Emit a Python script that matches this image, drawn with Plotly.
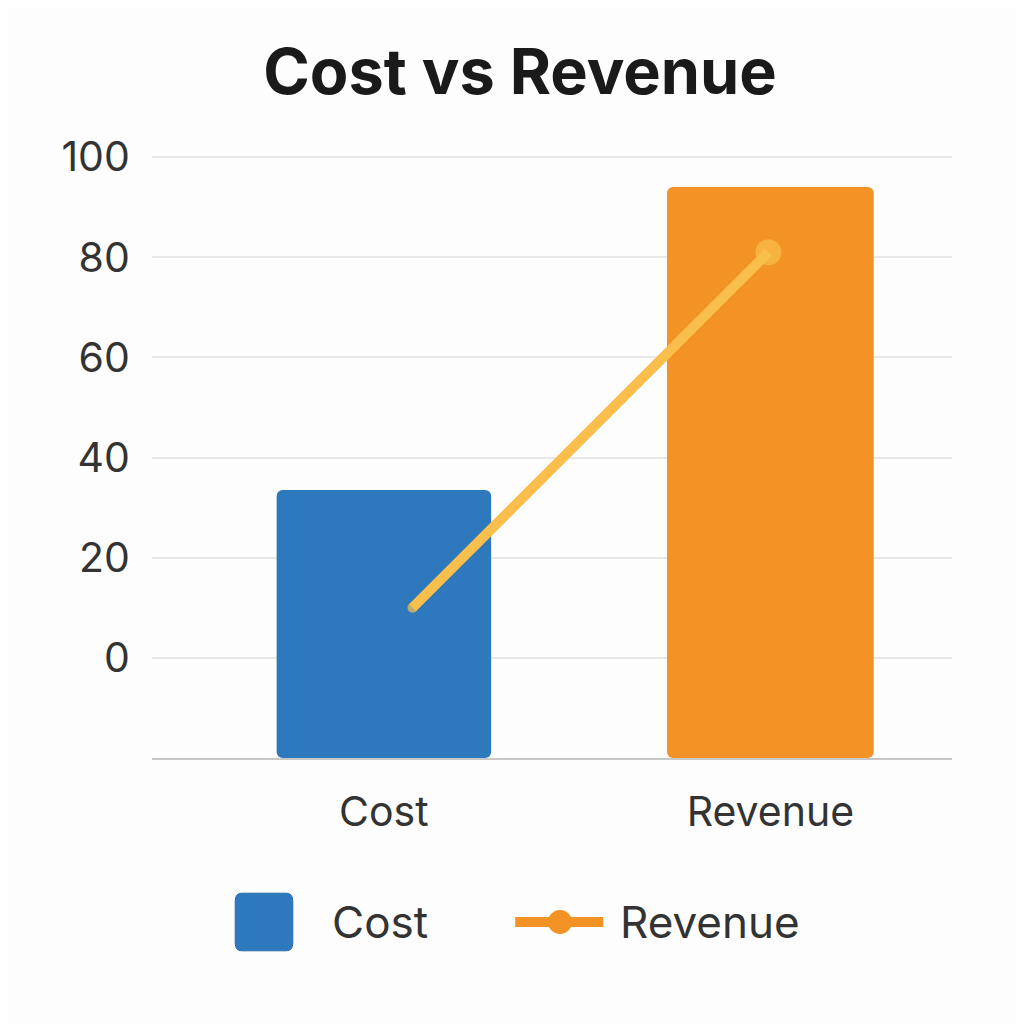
import plotly.graph_objects as go

# values
categories = ["Cost", "Revenue"]
bar_pos = [0, 1]
bar_values = [33.5, 94]
bar_base = -20
line_x = [0.074, 0.995]
line_values = [10, 81]
y_ticks = [0, 20, 40, 60, 80, 100]

blue = "#2E78BE"
orange = "#F39325"
yellow = "#F8BF4C"
font = "Inter"

fig = go.Figure()
fig.add_trace(go.Bar(x=[bar_pos[0]], y=[bar_values[0] - bar_base], base=bar_base, width=0.555,
                     marker=dict(color=blue, cornerradius=6, line=dict(width=0)),
                     name=categories[0], showlegend=False))
fig.add_trace(go.Bar(x=[bar_pos[1]], y=[bar_values[1] - bar_base], base=bar_base, width=0.535,
                     marker=dict(color=orange, cornerradius=6, line=dict(width=0)),
                     name=categories[1], showlegend=False))
fig.add_trace(go.Scatter(x=line_x, y=line_values, mode="lines+markers",
                         line=dict(color=yellow, width=10),
                         marker=dict(size=[10, 26], color=yellow, line=dict(width=0)),
                         name=categories[1], showlegend=False))

# legend drawn by hand, the symbols are far bigger than plotly's own
ly = -0.262
x0, x1, y0, y1 = 0.104, 0.176, ly - 0.046, ly + 0.046
rx, ry = 0.008, 0.0125
rounded = (f"M {x0+rx},{y0} L {x1-rx},{y0} Q {x1},{y0} {x1},{y0+ry} L {x1},{y1-ry} "
           f"Q {x1},{y1} {x1-rx},{y1} L {x0+rx},{y1} Q {x0},{y1} {x0},{y1-ry} "
           f"L {x0},{y0+ry} Q {x0},{y0} {x0+rx},{y0} Z")
fig.add_shape(type="path", xref="paper", yref="paper", path=rounded,
              fillcolor=blue, line=dict(color="#2A6DAD", width=1))
fig.add_annotation(x=0.222, y=ly, xref="paper", yref="paper", yanchor="middle", text=categories[0],
                   showarrow=False, xanchor="left", font=dict(size=44, color="#333", family=font))
fig.add_shape(type="line", xref="paper", yref="paper", x0=0.454, x1=0.564, y0=ly, y1=ly,
              line=dict(color=orange, width=10))
fig.add_shape(type="circle", xref="paper", yref="paper", x0=0.495, x1=0.525, y0=ly - 0.019, y1=ly + 0.019,
              fillcolor=orange, line=dict(width=0))
fig.add_annotation(x=0.583, y=ly, xref="paper", yref="paper", yanchor="middle", text=categories[1],
                   showarrow=False, xanchor="left", font=dict(size=44, color="#333", family=font))

fig.update_xaxes(range=[-0.6, 1.47], tickvals=bar_pos, ticktext=categories,
                 showgrid=False, zeroline=False, showline=True, linecolor="#C8C8C8", linewidth=2,
                 ticks="outside", ticklen=17, tickcolor="rgba(0,0,0,0)",
                 tickfont=dict(size=41, color="#333", family=font))
fig.update_yaxes(range=[-20, 105], tickvals=y_ticks, showgrid=True, gridcolor="#E8E8E8", gridwidth=2,
                 zeroline=False, showline=False, ticks="outside", ticklen=13, tickcolor="rgba(0,0,0,0)",
                 tickfont=dict(size=41, color="#333", family=font))
fig.update_layout(width=1024, height=1024,
                  margin=dict(l=144, r=80, t=124, b=274),
                  paper_bgcolor="#FDFDFD", plot_bgcolor="#FDFDFD",
                  title=dict(text="<b>Cost vs Revenue</b>", x=0.5, xanchor="center", y=0.938, yanchor="middle",
                             font=dict(size=63, color="#1a1a1a", family=font)),
                  showlegend=False)
fig.write_html("out.html")
